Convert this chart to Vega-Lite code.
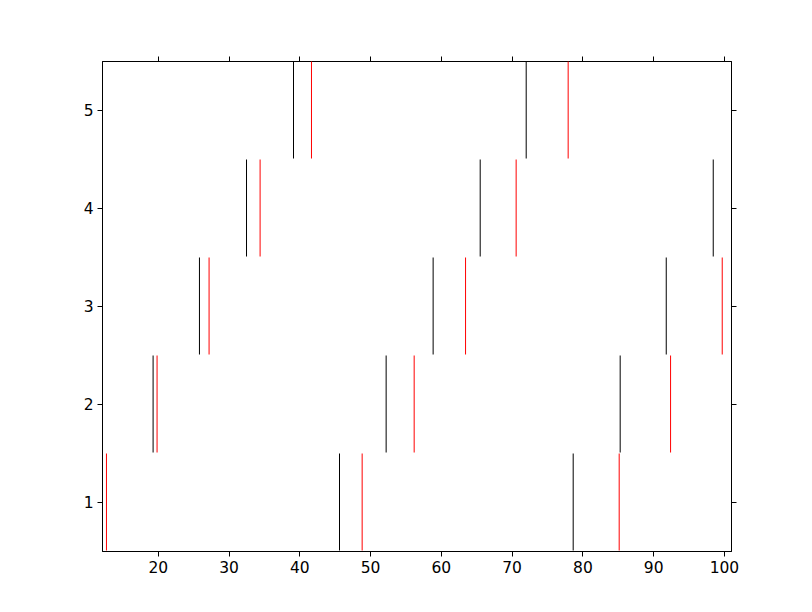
{
  "$schema": "https://vega.github.io/schema/vega-lite/v6.json",
  "width": 629,
  "height": 490,
  "autosize": "none",
  "padding": {"left": 102, "top": 61, "right": 81, "bottom": 61},
  "background": "white",
  "config": {
    "view": {"stroke": "black", "strokeWidth": 1},
    "axis": {
      "grid": false,
      "domainColor": "black",
      "tickColor": "black",
      "tickSize": 5,
      "tickWidth": 1,
      "labelColor": "black",
      "labelFont": "DejaVu Sans",
      "labelFontSize": 15.5,
      "labelPadding": 4,
      "title": null
    }
  },
  "data": {
    "values": [
      {"row": 1, "x": 12.75, "color": "red"},
      {"row": 1, "x": 45.68, "color": "black"},
      {"row": 1, "x": 48.88, "color": "red"},
      {"row": 1, "x": 78.70, "color": "black"},
      {"row": 1, "x": 85.20, "color": "red"},
      {"row": 2, "x": 19.34, "color": "black"},
      {"row": 2, "x": 19.90, "color": "red"},
      {"row": 2, "x": 52.27, "color": "black"},
      {"row": 2, "x": 56.23, "color": "red"},
      {"row": 2, "x": 85.34, "color": "black"},
      {"row": 2, "x": 92.46, "color": "red"},
      {"row": 3, "x": 25.89, "color": "black"},
      {"row": 3, "x": 27.25, "color": "red"},
      {"row": 3, "x": 58.91, "color": "black"},
      {"row": 3, "x": 63.49, "color": "red"},
      {"row": 3, "x": 91.85, "color": "black"},
      {"row": 3, "x": 99.76, "color": "red"},
      {"row": 4, "x": 32.54, "color": "black"},
      {"row": 4, "x": 34.46, "color": "red"},
      {"row": 4, "x": 65.56, "color": "black"},
      {"row": 4, "x": 70.64, "color": "red"},
      {"row": 4, "x": 98.49, "color": "black"},
      {"row": 5, "x": 39.18, "color": "black"},
      {"row": 5, "x": 41.72, "color": "red"},
      {"row": 5, "x": 72.06, "color": "black"},
      {"row": 5, "x": 77.99, "color": "red"}
    ]
  },
  "layer": [
    {
      "mark": {"type": "tick", "orient": "vertical", "size": 97, "thickness": 1, "opacity": 1},
      "encoding": {
        "x": {
          "field": "x", "type": "quantitative",
          "scale": {"domain": [12.12, 101], "nice": false, "zero": false},
          "axis": {"orient": "bottom", "values": [20, 30, 40, 50, 60, 70, 80, 90, 100]}
        },
        "y": {
          "field": "row", "type": "quantitative",
          "scale": {"domain": [0.5, 5.5], "nice": false, "zero": false},
          "axis": {"orient": "left", "values": [1, 2, 3, 4, 5]}
        },
        "color": {
          "field": "color", "type": "nominal",
          "scale": {"domain": ["black", "red"], "range": ["#000000", "#ff0000"]},
          "legend": null
        }
      }
    },
    {
      "mark": {"type": "tick", "orient": "vertical", "size": 97, "thickness": 1, "opacity": 0},
      "encoding": {
        "x": {
          "field": "x", "type": "quantitative",
          "axis": {"orient": "top", "labels": false, "values": [20, 30, 40, 50, 60, 70, 80, 90, 100]}
        },
        "y": {
          "field": "row", "type": "quantitative",
          "axis": {"orient": "right", "labels": false, "values": [1, 2, 3, 4, 5]}
        }
      }
    }
  ],
  "resolve": {"axis": {"x": "independent", "y": "independent"}}
}
